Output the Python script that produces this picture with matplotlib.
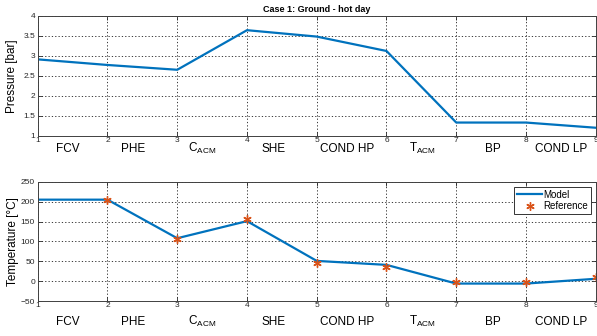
import numpy as np
from matplotlib import pyplot as plt

# stations along the cycle
stations = [1, 2, 3, 4, 5, 6, 7, 8, 9]
components = ["FCV", "PHE", "C$_{\\mathregular{ACM}}$", "SHE", "COND HP",
              "T$_{\\mathregular{ACM}}$", "BP", "COND LP"]

pressure_model = [2.91, 2.77, 2.65, 3.64, 3.48, 3.12, 1.33, 1.33, 1.20]

temp_model = [205, 205, 108, 151, 51, 41, -6, -6, 6]
ref_stations = [2, 3, 4, 5, 6, 7, 8, 9]
temp_ref = [205, 107, 156, 46, 36, -2, -2, 10]

blue = "#0072BD"
orange = "#D95319"

# where the component names sit between the station ticks
name_shift = [0.43, 0.37, 0.36, 0.38, 0.43, 0.52, 0.52, 0.51]

plt.rcParams["font.family"] = ["Liberation Sans", "DejaVu Sans"]

fig = plt.figure(figsize=(5.97, 3.36), dpi=100)
ax1 = fig.add_axes([0.0632, 0.596, 0.9347, 0.357])
ax2 = fig.add_axes([0.0632, 0.104, 0.9347, 0.355])


def style_axis(ax, ylim, yticks, name_drop):
    ax.set_xlim(1, 9)
    ax.set_ylim(*ylim)
    ax.set_xticks(stations)
    ax.set_yticks(yticks)
    ax.tick_params(direction="in", length=3, width=0.6, labelsize=6,
                   top=True, right=True, pad=2, colors="0.15")
    ax.tick_params(axis="x", pad=1)
    ax.grid(True, color="0.1", linestyle=(0, (1.5, 2.5)), linewidth=0.6)
    for s in ax.spines.values():
        s.set_color("0.25")
        s.set_linewidth(0.7)
    # component names between stations
    for i, name in enumerate(components):
        ax.annotate(name, (stations[i] + name_shift[i], 0),
                    xycoords=ax.get_xaxis_transform(),
                    xytext=(0, -name_drop), textcoords="offset points",
                    ha="center", va="center", fontsize=8.5)


ax1.plot(stations, pressure_model, color=blue, linewidth=1.6)
style_axis(ax1, (1, 4), np.arange(1, 4.01, 0.5), 9.5)
ax1.set_yticklabels(["1", "1.5", "2", "2.5", "3", "3.5", "4"])
ax1.set_ylabel("Pressure [bar]", fontsize=8.5, labelpad=4)
ax1.set_title("Case 1: Ground - hot day", fontsize=6.5, fontweight="bold", pad=3)

ax2.plot(stations, temp_model, color=blue, linewidth=1.6, label="Model")
ax2.plot(ref_stations, temp_ref, linestyle="none", marker=(6, 2, 0), markersize=6,
         color=orange, markeredgewidth=1.0, label="Reference")
style_axis(ax2, (-50, 250), np.arange(-50, 251, 50), 15)
ax2.set_ylabel("Temperature [°C]", fontsize=8.5, labelpad=1)
leg = ax2.legend(loc="upper right", fontsize=7, fancybox=False, framealpha=1,
                 edgecolor="0.2", borderpad=0.3, handlelength=2.6,
                 handletextpad=0.1, labelspacing=0.2, borderaxespad=0.5)
leg.get_frame().set_linewidth(0.7)

fig.savefig("out.png", dpi=100)
